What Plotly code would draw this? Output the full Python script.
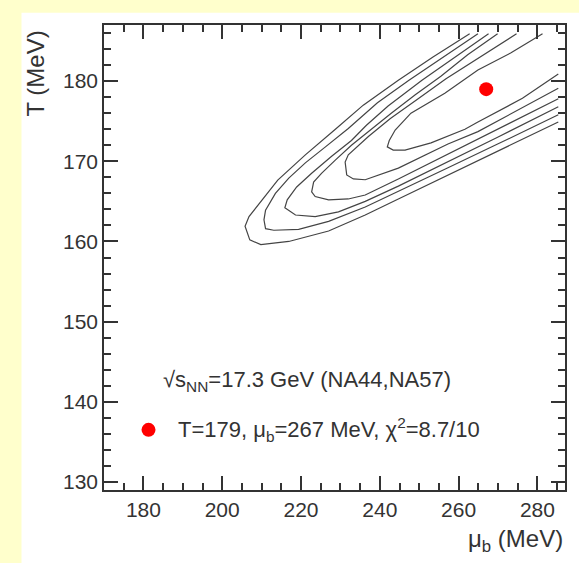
import plotly.graph_objects as go

# ---- data ----
# six chi^2 contour lines, each: upper branch from top end -> tip -> lower branch to right end
c1_mu = [262.8, 253.5, 244.7, 235.8, 228.5, 221.1, 214.1, 209.1, 206.8, 205.8, 207.0, 209.8, 216.9, 227.0, 236.3, 244.7, 257.3, 269.9, 285.3]
c1_T = [185.9, 183.0, 180.1, 177.0, 173.9, 170.8, 167.65, 164.5, 163.1, 161.9, 160.2, 159.6, 160.0, 161.3, 163.3, 165.3, 168.3, 171.3, 174.9]

c2_mu = [264.9, 256.0, 247.4, 239.4, 232.0, 226.2, 221.1, 216.9, 213.5, 211.0, 210.6, 211.0, 213.1, 219.4, 227.0, 236.3, 244.7, 257.3, 269.9, 285.3]
c2_T = [185.9, 183.0, 180.1, 177.3, 174.1, 171.8, 169.8, 167.9, 166.0, 163.9, 162.7, 161.6, 161.4, 161.5, 162.5, 164.3, 166.3, 169.2, 172.15, 175.8]

c3_mu = [267.6, 259.1, 250.7, 242.1, 236.6, 232.8, 227.7, 222.7, 218.9, 216.5, 215.9, 218.6, 223.6, 229.5, 236.3, 244.7, 257.3, 269.9, 285.3]
c3_T = [185.9, 183.0, 180.1, 176.9, 174.5, 172.6, 170.6, 168.5, 166.8, 165.2, 164.2, 163.3, 163.1, 163.7, 165.0, 166.9, 169.9, 173.0, 176.8]

c4_mu = [269.9, 262.3, 255.5, 249.0, 242.9, 237.6, 232.8, 228.7, 225.2, 223.2, 222.7, 223.6, 227.0, 232.0, 236.3, 244.7, 257.3, 269.9, 285.3]
c4_T = [185.9, 183.3, 180.6, 178.3, 176.0, 173.9, 172.0, 170.15, 168.5, 167.4, 166.2, 165.6, 165.2, 165.3, 165.8, 167.8, 170.9, 174.0, 177.8]

c5_mu = [274.7, 265.6, 256.8, 249.2, 242.6, 237.1, 234.1, 232.0, 231.2, 231.6, 233.3, 236.3, 244.7, 257.3, 264.9, 275.0, 285.3]
c5_T = [185.9, 183.1, 180.3, 177.6, 175.3, 173.1, 171.8, 170.8, 169.9, 168.3, 167.8, 167.7, 169.15, 172.15, 173.7, 176.4, 179.1]

c6_mu = [281.3, 273.2, 264.9, 256.5, 247.9, 243.9, 242.4, 241.9, 243.4, 246.4, 253.0, 261.6, 264.9, 276.2, 285.3]
c6_T = [185.9, 183.5, 181.4, 178.5, 176.0, 173.9, 172.6, 171.8, 171.4, 171.4, 172.3, 174.0, 174.9, 177.85, 180.9]

contours = [(c1_mu, c1_T), (c2_mu, c2_T), (c3_mu, c3_T), (c4_mu, c4_T), (c5_mu, c5_T), (c6_mu, c6_T)]

best_mu = [267]
best_T = [179]

key_mu = [181.3]
key_T = [136.5]

text_line1 = "\u221As<sub>NN</sub>=17.3 GeV (NA44,NA57)"
text_line1_pos = (184.4, 142.6)
text_line2 = "T=179, \u03BC<sub>b</sub>=267 MeV, \u03C7<sup>2</sup>=8.7/10"
text_line2_pos = (188.2, 136.5)

x_range = [170, 287]
y_range = [129, 187]

FONT = "Liberation Sans, Arial, Helvetica, sans-serif"
INK = "#333333"

fig = go.Figure()
for mu, T in contours:
    fig.add_trace(go.Scatter(x=mu, y=T, mode="lines",
                             line=dict(color="#444444", width=1.2),
                             showlegend=False, hoverinfo="skip"))

fig.add_trace(go.Scatter(x=best_mu, y=best_T, mode="markers",
                         marker=dict(color="#ff0000", size=14), showlegend=False))
fig.add_trace(go.Scatter(x=key_mu, y=key_T, mode="markers",
                         marker=dict(color="#ff0000", size=14), showlegend=False))

fig.add_annotation(x=text_line1_pos[0], y=text_line1_pos[1], text=text_line1,
                   xref="x", yref="y", xanchor="left", yanchor="middle",
                   showarrow=False, font=dict(family=FONT, size=22, color=INK))
fig.add_annotation(x=text_line2_pos[0], y=text_line2_pos[1], text=text_line2,
                   xref="x", yref="y", xanchor="left", yanchor="middle",
                   showarrow=False, font=dict(family=FONT, size=22, color=INK))

# axis titles
fig.add_annotation(x=1.0, y=-0.108, xref="paper", yref="paper", text="\u03BC<sub>b</sub> (MeV)",
                   xanchor="right", yanchor="middle", showarrow=False,
                   font=dict(family=FONT, size=24, color=INK))
fig.add_annotation(x=-0.148, y=0.895, xref="paper", yref="paper", text="T (MeV)",
                   textangle=-90, xanchor="center", yanchor="middle", showarrow=False,
                   font=dict(family=FONT, size=24, color=INK))

# white panel over the yellow page
fig.add_shape(type="rect", xref="paper", yref="paper", x0=-0.179, x1=1.2, y0=-0.3, y1=1.0265,
              fillcolor="white", line=dict(width=0), layer="below")

axis_common = dict(showgrid=False, zeroline=False, showline=True, linecolor=INK, linewidth=1.5,
                   mirror="ticks", ticks="inside", ticklen=14, tickwidth=1.5, tickcolor=INK,
                   tickfont=dict(family=FONT, size=21, color=INK))

fig.update_xaxes(range=x_range, dtick=20, tick0=0,
                 minor=dict(ticks="inside", ticklen=7, dtick=5, tick0=0, tickwidth=1.5, tickcolor=INK, showgrid=False),
                 **axis_common)
fig.update_yaxes(range=y_range, dtick=10, tick0=0,
                 minor=dict(ticks="inside", ticklen=7, dtick=2, tick0=0, tickwidth=1.5, tickcolor=INK, showgrid=False),
                 **axis_common)

fig.update_layout(width=579, height=563, margin=dict(l=104, r=12, t=25, b=73),
                  paper_bgcolor="#FFFFCC", plot_bgcolor="white",
                  font=dict(family=FONT, color=INK))

fig.write_html("out.html", config={"displayModeBar": False},
               post_script="document.body.style.margin='0';document.body.style.overflow='hidden';")
